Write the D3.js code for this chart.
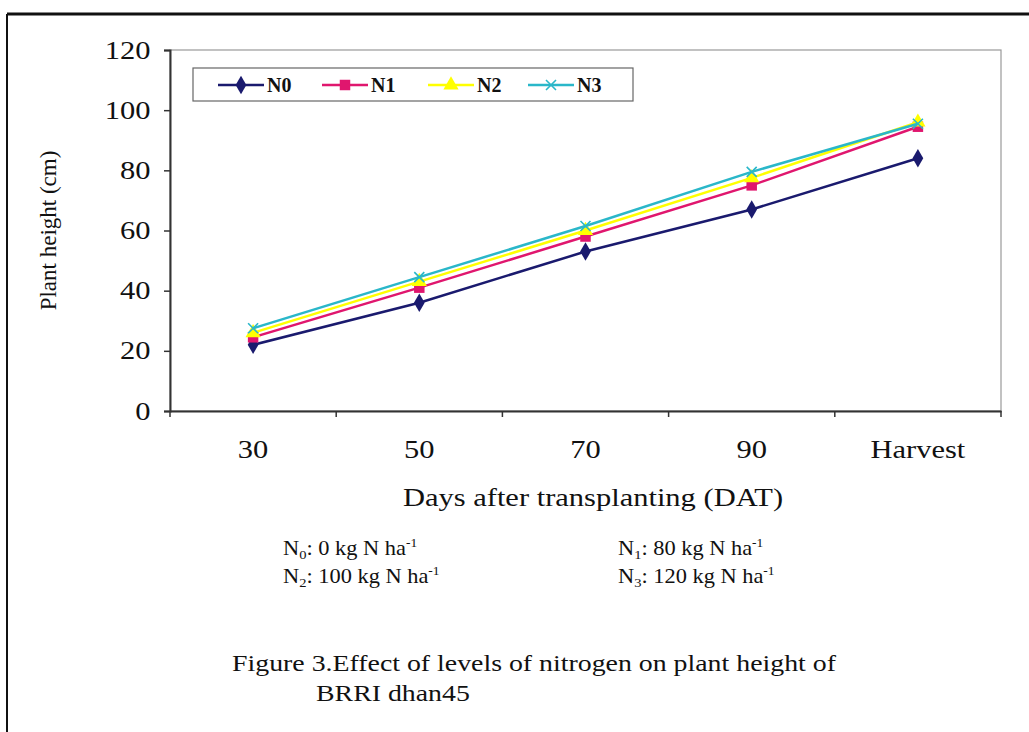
<!DOCTYPE html>
<html>
<head>
<meta charset="utf-8">
<script src="https://cdn.jsdelivr.net/npm/d3@7"></script>
<style>
body{margin:0;background:#fff;}
svg text{font-family:"Liberation Serif","DejaVu Serif",serif;}
</style>
</head>
<body>
<script>
//chart values
var categories=["30","50","70","90","Harvest"];
var seriesNames=["N0","N1","N2","N3"];
var n0=[22,36,53,67,84];
var n1=[24.5,41,58,75,94.5];
var n2=[26,43,60,77.5,96];
var n3=[27.5,44.5,61.5,79.5,95.5];
var yTicks=[0,20,40,60,80,100,120];

window.onload=drawChart();

function drawChart(){
	var width=1029,
		height=732,
		wide=1.22; //the scan is stretched sideways, so is its text

	var svg=d3.select("body")
		.append("svg")
		.attr("width",width)
		.attr("height",height);

	//outer frame of the scanned figure
	svg.append("line").attr("x1",7).attr("x2",width).attr("y1",14).attr("y2",14)
		.attr("stroke","#111").attr("stroke-width",3);
	svg.append("line").attr("x1",7).attr("x2",7).attr("y1",14).attr("y2",height)
		.attr("stroke","#111").attr("stroke-width",2);

	var left=170,right=1001,top=50,bottom=411;

	var x=d3.scaleBand()
		.domain(categories)
		.range([left,right]);

	var y=d3.scaleLinear()
		.domain([0,120])
		.range([bottom,top]);

	//plot area border
	svg.append("rect")
		.attr("x",left).attr("y",top)
		.attr("width",right-left).attr("height",bottom-top)
		.attr("fill","none").attr("stroke","#999").attr("stroke-width",1.2);

	//y axis
	var yAxis=svg.append("g")
		.attr("transform","translate("+left+",0)")
		.call(d3.axisLeft(y).tickValues(yTicks).tickSize(6).tickPadding(10));
	yAxis.attr("font-family",null);
	yAxis.select(".domain").attr("stroke","#333").attr("stroke-width",2);
	yAxis.selectAll(".tick line").attr("stroke","#333").attr("stroke-width",1.5);
	yAxis.selectAll("text").attr("font-size",25).attr("fill","#111")
		.attr("transform","scale("+wide+",1)");

	//x axis, ticks between categories
	var xAxis=svg.append("g")
		.attr("transform","translate(0,"+bottom+")")
		.call(d3.axisBottom(x).tickSize(0).tickPadding(29));
	xAxis.attr("font-family",null);
	xAxis.select(".domain").attr("stroke","#333").attr("stroke-width",2);
	xAxis.selectAll("text").attr("font-size",25).attr("fill","#111")
		.attr("transform","scale("+wide+",1)");
	svg.selectAll(".xtick")
		.data(categories.concat([""]))
		.enter()
		.append("line")
		.attr("class","xtick")
		.attr("x1",function(d,i){return left+i*x.step();})
		.attr("x2",function(d,i){return left+i*x.step();})
		.attr("y1",bottom).attr("y2",bottom+6)
		.attr("stroke","#333").attr("stroke-width",1.5);

	//axis titles
	svg.append("text")
		.attr("transform","translate(56,"+((top+bottom)/2)+") rotate(-90)")
		.attr("text-anchor","middle")
		.attr("font-size",23)
		.attr("fill","#111")
		.text("Plant height (cm)");
	svg.append("text")
		.attr("transform","translate(593,506) scale("+wide+",1)")
		.attr("text-anchor","middle")
		.attr("font-size",25)
		.attr("fill","#111")
		.text("Days after transplanting (DAT)");

	//series
	var series=[
		{name:seriesNames[0],values:n0,color:"#1a1a6e",shape:d3.symbolDiamond},
		{name:seriesNames[1],values:n1,color:"#e0166e",shape:d3.symbolSquare},
		{name:seriesNames[2],values:n2,color:"#ffff00",shape:d3.symbolTriangle},
		{name:seriesNames[3],values:n3,color:"#2ab7c9",shape:"x"}
	];

	var line=d3.line()
		.x(function(d,i){return x(categories[i])+x.bandwidth()/2;})
		.y(function(d){return y(d);});

	function marker(g,s,cx,cy){
		if(s.shape==="x"){
			g.append("path")
				.attr("d","M"+(cx-5)+","+(cy-5)+"L"+(cx+5)+","+(cy+5)+"M"+(cx+5)+","+(cy-5)+"L"+(cx-5)+","+(cy+5))
				.attr("stroke",s.color).attr("stroke-width",1.6).attr("fill","none");
		}else{
			g.append("path")
				.attr("d",d3.symbol().type(s.shape).size(s.shape===d3.symbolSquare?110:100)())
				.attr("transform","translate("+cx+","+cy+")")
				.attr("fill",s.color);
		}
	}

	series.forEach(function(s){
		var g=svg.append("g").attr("class","series");
		g.append("path")
			.datum(s.values)
			.attr("d",line)
			.attr("fill","none")
			.attr("stroke",s.color)
			.attr("stroke-width",2.5);
		s.values.forEach(function(v,i){
			marker(g,s,x(categories[i])+x.bandwidth()/2,y(v));
		});
	});

	//legend
	var legend=svg.append("g");
	legend.append("rect")
		.attr("x",193).attr("y",68).attr("width",440).attr("height",33)
		.attr("fill","#fff").attr("stroke","#666").attr("stroke-width",1.2);
	var legX=[218,322,428,528];
	series.forEach(function(s,i){
		legend.append("line")
			.attr("x1",legX[i]).attr("x2",legX[i]+46)
			.attr("y1",85).attr("y2",85)
			.attr("stroke",s.color).attr("stroke-width",2.5);
		marker(legend,s,legX[i]+23,85);
		legend.append("text")
			.attr("x",legX[i]+49).attr("y",92)
			.attr("font-size",20).attr("font-weight","bold").attr("fill","#111")
			.text(s.name);
	});

	//treatment notes
	var notes=[
		{sub:"0",txt:": 0 kg N ha",x:283,y:555},
		{sub:"1",txt:": 80 kg N ha",x:618,y:555},
		{sub:"2",txt:": 100 kg N ha",x:283,y:583},
		{sub:"3",txt:": 120 kg N ha",x:618,y:583}
	];
	notes.forEach(function(n){
		var t=svg.append("text")
			.attr("transform","translate("+n.x+","+n.y+") scale(1.12,1)")
			.attr("font-size",20).attr("fill","#111");
		t.append("tspan").text("N");
		t.append("tspan").attr("font-size",13).attr("dy",4).text(n.sub);
		t.append("tspan").attr("dy",-4).text(n.txt);
		t.append("tspan").attr("font-size",12).attr("dy",-8).text("-1");
	});

	//caption
	svg.append("text")
		.attr("transform","translate(232,671) scale(1.16,1)")
		.attr("font-size",24).attr("fill","#111")
		.text("Figure 3.Effect of levels of nitrogen on plant height of");
	svg.append("text")
		.attr("transform","translate(316,701) scale(1.16,1)")
		.attr("font-size",24).attr("fill","#111")
		.text("BRRI dhan45");
};
</script>
</body>
</html>
